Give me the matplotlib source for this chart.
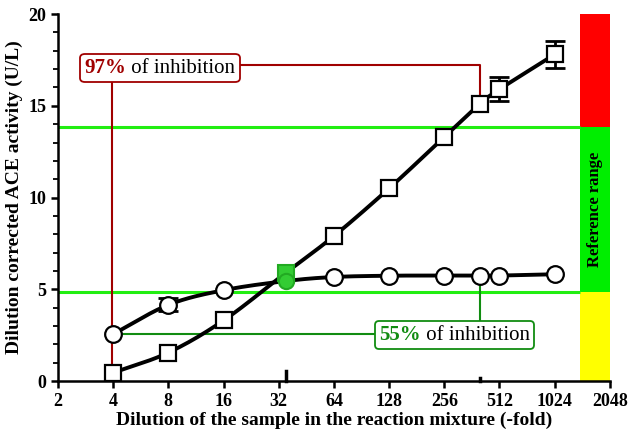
import numpy as np
import matplotlib
matplotlib.use("Agg")
import matplotlib.pyplot as plt
from matplotlib.offsetbox import TextArea, HPacker, AnnotationBbox

plt.rcParams['font.family'] = ['Liberation Serif', 'DejaVu Serif']

# data
dil_sq = [4, 8, 16, 64, 128, 256, 400, 512, 1024]
act_sq = [0.45, 1.55, 3.3, 7.9, 10.5, 13.3, 15.1, 15.9, 17.8]
err_sq = [0, 0, 0, 0, 0, 0, 0, 0.65, 0.72]

dil_ci = [4, 8, 16, 64, 128, 256, 400, 512, 1024]
act_ci = [2.56, 4.15, 4.95, 5.67, 5.74, 5.75, 5.75, 5.75, 5.82]
err_ci = [0, 0.35, 0, 0, 0, 0, 0, 0, 0]

dil_green = 35
act_green_sq = 5.9
act_green_ci = 5.45

ref_low = 4.87
ref_high = 13.84
bar_left = 1400
bar_right = 2048

x_ticks = [2, 4, 8, 16, 32, 64, 128, 256, 512, 1024, 2048]

DARKRED = '#a00000'
DGREEN = '#118c11'
LIME = '#22ee11'


def smooth(xs, ys, n=25):
    # catmull-rom through the points, in log2(x) space
    lx = np.log2(np.asarray(xs, float))
    y = np.asarray(ys, float)
    P = np.column_stack([lx, y])
    P = np.vstack([2 * P[0] - P[1], P, 2 * P[-1] - P[-2]])
    out = []
    t = np.linspace(0, 1, n)[:, None]
    for i in range(1, len(P) - 2):
        p0, p1, p2, p3 = P[i - 1], P[i], P[i + 1], P[i + 2]
        seg = 0.5 * ((2 * p1) + (-p0 + p2) * t + (2 * p0 - 5 * p1 + 4 * p2 - p3) * t ** 2
                     + (-p0 + 3 * p1 - 3 * p2 + p3) * t ** 3)
        out.append(seg)
    out = np.vstack(out)
    return 2 ** out[:, 0], out[:, 1]


fig = plt.figure(figsize=(6.3, 4.4), dpi=100)
ax = fig.add_axes([0.092, 0.134, 0.876, 0.834])
ax.set_xscale('log', base=2)
ax.set_xlim(2, 2048)
ax.set_ylim(0, 20)

# reference range bar
ax.fill_betweenx([0, ref_low], bar_left, bar_right, color='#ffff00', lw=0, zorder=1)
ax.fill_betweenx([ref_low, ref_high], bar_left, bar_right, color='#00ee00', lw=0, zorder=1)
ax.fill_betweenx([ref_high, 20], bar_left, bar_right, color='#ff0000', lw=0, zorder=1)
ax.text(np.sqrt(bar_left * bar_right), (ref_low + ref_high) / 2, 'Reference range',
        rotation=90, ha='center', va='center', fontsize=12, fontweight='bold', zorder=2)

ax.hlines([ref_low, ref_high], 2, bar_left, color=LIME, lw=2.2, zorder=2)

# connector lines
ax.plot([3.95, 3.95], [act_sq[0], 17.2], color=DARKRED, lw=1.5, zorder=3)
ax.plot([9, 400, 400], [17.2, 17.2, 15.3], color=DARKRED, lw=1.5, zorder=3)
ax.plot([4.1, 200], [act_ci[0], act_ci[0]], color=DGREEN, lw=1.5, zorder=3)
ax.plot([400, 400], [2.6, act_ci[6]], color=DGREEN, lw=1.5, zorder=3)

# curves
xs, ys = smooth(dil_sq[:3] + [dil_green] + dil_sq[3:], act_sq[:3] + [act_green_sq] + act_sq[3:])
ax.plot(xs, ys, color='black', lw=2.8, zorder=4)
xc, yc = smooth(dil_ci[:3] + [dil_green] + dil_ci[3:], act_ci[:3] + [act_green_ci] + act_ci[3:])
ax.plot(xc, yc, color='black', lw=2.8, zorder=4)

for d, a, e in [(dil_sq, act_sq, err_sq), (dil_ci, act_ci, err_ci)]:
    keep = [i for i in range(len(e)) if e[i] > 0]
    ax.errorbar([d[i] for i in keep], [a[i] for i in keep], yerr=[e[i] for i in keep],
                fmt='none', ecolor='black', elinewidth=2, capsize=7, capthick=2, zorder=5)

ax.plot(dil_sq, act_sq, ls='none', marker='s', ms=11.5, mfc='white', mec='black', mew=1.6, zorder=6)
ax.plot(dil_ci, act_ci, ls='none', marker='o', ms=12, mfc='white', mec='black', mew=1.6, zorder=6)
ax.plot([dil_green], [act_green_sq], ls='none', marker='s', ms=11, mfc='#33cc33', mec='#22aa22', mew=1.5, zorder=7)
ax.plot([dil_green], [act_green_ci], ls='none', marker='o', ms=11, mfc='#33cc33', mec='#22aa22', mew=1.5, zorder=7)

# small marks on the x axis
ax.plot([dil_green, dil_green], [0, 0.55], color='black', lw=2.5, zorder=8, clip_on=False)
ax.plot([400, 400], [0, 0.18], color='black', lw=2.5, zorder=8, clip_on=False)


def label_box(x, y, pct, color):
    t1 = TextArea(pct, textprops=dict(color=color, fontweight='bold', fontsize=15))
    t2 = TextArea(' of inhibition', textprops=dict(color='black', fontsize=15))
    box = HPacker(children=[t1, t2], align='baseline', pad=0, sep=0)
    ab = AnnotationBbox(box, (x, y), frameon=True, pad=0.3, zorder=9,
                        bboxprops=dict(boxstyle='round,pad=0.3,rounding_size=0.3',
                                       edgecolor=color, facecolor='white', lw=1.3))
    ax.add_artist(ab)


label_box(7.2, 17.06, '97%', DARKRED)
label_box(292, 2.5, '55%', DGREEN)

ax.set_xticks(x_ticks)
ax.set_xticklabels([str(v) for v in x_ticks])
ax.set_yticks([0, 5, 10, 15, 20])
ax.set_yticks(np.arange(0, 21, 1), minor=True)
ax.xaxis.set_minor_locator(matplotlib.ticker.NullLocator())
ax.tick_params(axis='both', which='major', labelsize=13, width=1.8, length=5)
ax.tick_params(axis='y', which='minor', width=1.3, length=3.5)
for lab in ax.get_xticklabels() + ax.get_yticklabels():
    lab.set_fontweight('bold')

for s in ['top', 'right']:
    ax.spines[s].set_visible(False)
for s in ['left', 'bottom']:
    ax.spines[s].set_linewidth(1.8)

ax.set_xlabel('Dilution of the sample in the reaction mixture (-fold)', fontsize=14,
              fontweight='bold', labelpad=1)
ax.set_ylabel('Dilution corrected ACE activity (U/L)', fontsize=14, fontweight='bold', labelpad=4)

fig.savefig('out.png', dpi=100)
